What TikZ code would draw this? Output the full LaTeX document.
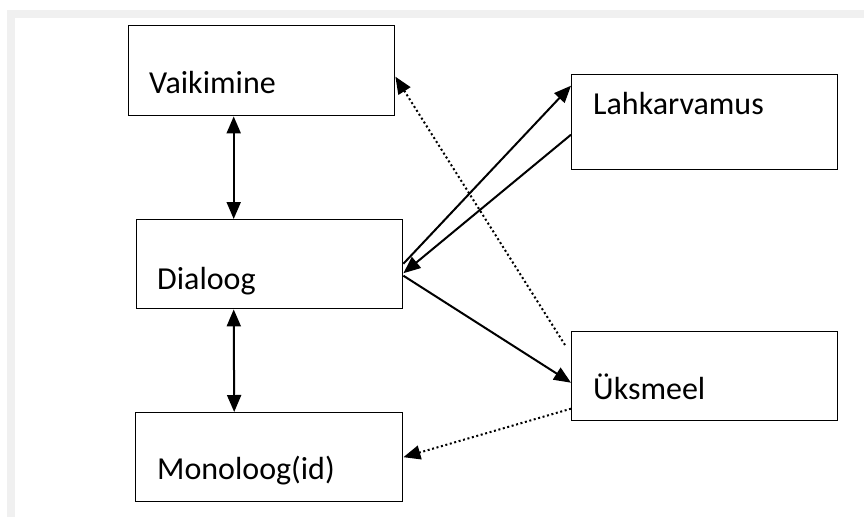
\documentclass[tikz,border=0pt]{standalone}
\usepackage{fontspec}
\setmainfont{Carlito}
\usetikzlibrary{arrows.meta}
\definecolor{bandgray}{HTML}{F0F0F0}
\begin{document}
\begin{tikzpicture}[x=1pt,y=-1pt,
  box/.style={draw, line width=1.4pt, inner sep=0pt, anchor=north west},
  lbl/.style={anchor=base west, inner sep=0pt, font=\fontsize{32}{38}\selectfont},
  tip/.style={Triangle[length=17pt,width=14pt]},
  link/.style={line width=2pt, -{Triangle[length=17pt,width=14pt]}},
  dlink/.style={line width=2pt, {Triangle[length=17pt,width=14pt]}-{Triangle[length=17pt,width=14pt]}},
  dots/.style={line width=2pt, dash pattern=on 2pt off 2.6pt, -{Triangle[length=17pt,width=14pt]}}]
\useasboundingbox (0,0) rectangle (864,517);
\fill[bandgray] (7,10) rectangle (864,18);
\fill[bandgray] (7,10) rectangle (15,517);
% boxes
\node[box, minimum width=266pt, minimum height=90pt] (vai) at (128,25) {};
\node[box, minimum width=266pt, minimum height=89pt] (dia) at (136,219) {};
\node[box, minimum width=267pt, minimum height=89pt] (mon) at (135,412) {};
\node[box, minimum width=266pt, minimum height=95pt] (lah) at (571,74) {};
\node[box, minimum width=266pt, minimum height=89pt] (uks) at (571,331) {};
% labels
\node[lbl] (tvai) at (149,93) {Vaikimine};
\node[lbl] (tdia) at (157,289) {Dialoog};
\node[lbl] (tmon) at (157,479) {Monoloog(id)};
\node[lbl] (tlah) at (593,114) {Lahkarvamus};
\node[lbl] (tuks) at (593,399) {Üksmeel};
% connectors
\draw[dlink] ([xshift=-28pt]vai.south) -- ([xshift=-36pt]dia.north);
\draw[dlink] ([xshift=-36pt]dia.south) -- ([xshift=-35pt]mon.north);
\draw[link] ([yshift=0.5pt]dia.east) -- ([yshift=36.5pt]lah.west);
\draw[link] ([yshift=-12.5pt]lah.west) -- ([yshift=-9pt]dia.east);
\draw[link] ([yshift=-11.5pt]dia.east) -- ([yshift=-6.5pt]uks.west);
\coordinate (s1) at (565,345);
\draw[dots] (s1) -- ([yshift=-6pt]vai.east);
\draw[dots] ([yshift=-32.5pt]uks.west) -- (mon.east);
\end{tikzpicture}
\end{document}
